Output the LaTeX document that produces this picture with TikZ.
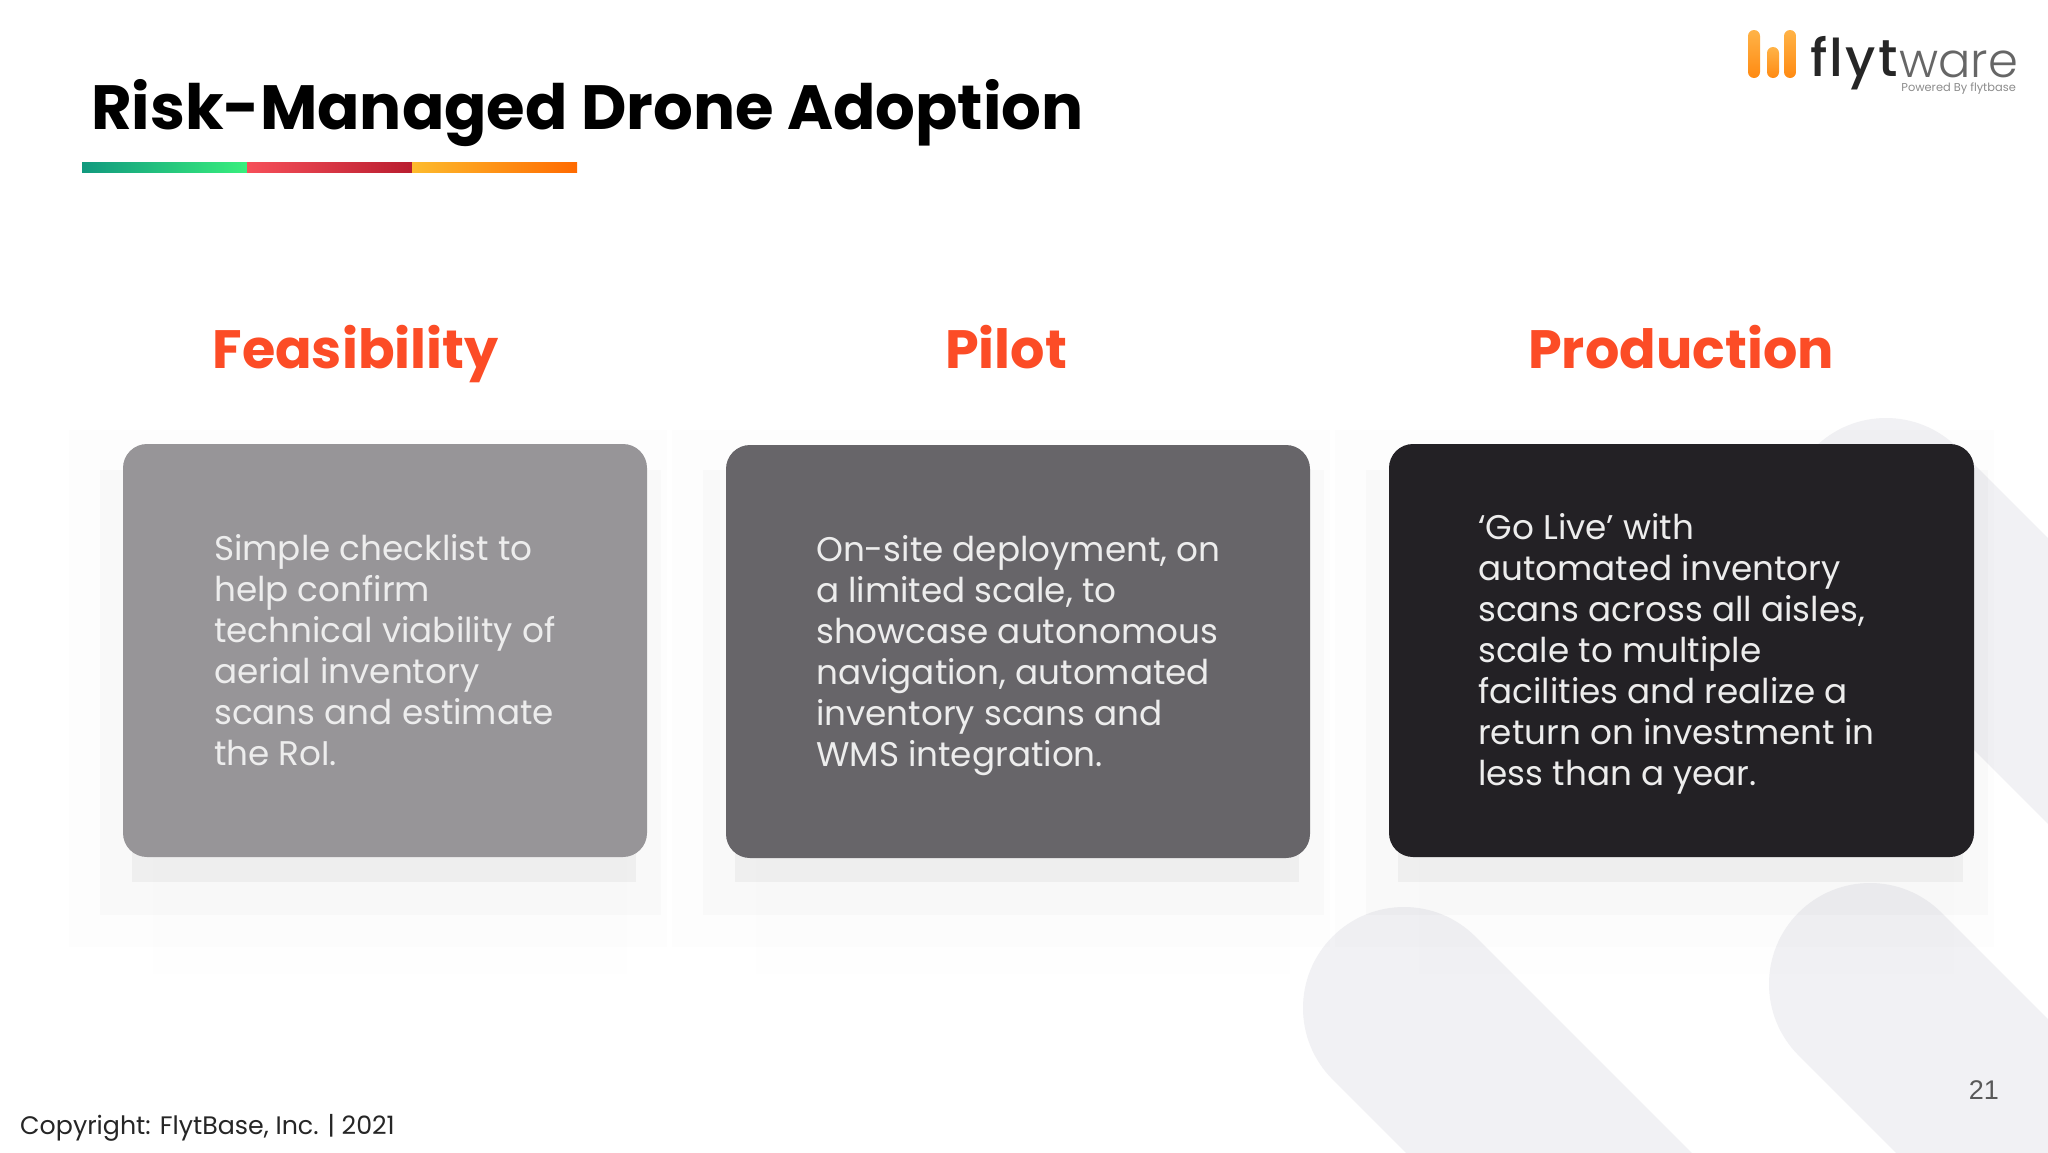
\documentclass[tikz,border=0pt]{standalone}
\usepackage{fontspec}
\setmainfont{Poppins}
\newfontfamily\pagefont{Liberation Sans}
\newfontfamily\logolight{Poppins Light}
\newfontfamily\logomedium{Poppins Medium}
\usetikzlibrary{positioning}
\definecolor{cardlight}{HTML}{979598}
\definecolor{cardmid}{HTML}{676569}
\definecolor{carddark}{HTML}{232125}
\definecolor{headred}{HTML}{FC4C26}
\definecolor{swoosh}{HTML}{F1F1F4}
\definecolor{barteal}{HTML}{11997E}
\definecolor{bargreen}{HTML}{38EF7D}
\definecolor{barred}{HTML}{F64F59}
\definecolor{barcrimson}{HTML}{B91D2F}
\definecolor{baryellow}{HTML}{FDBB2D}
\definecolor{barorange}{HTML}{FF6A00}
\definecolor{logotop}{HTML}{FFB347}
\definecolor{logobottom}{HTML}{FF8A12}
\begin{document}
\begin{tikzpicture}[x=1pt,y=-1pt]
  \tikzset{card/.style = {rounded corners=24pt, inner sep=0pt},
    cardtext/.style = {anchor=north west, align=left, inner sep=0pt, text=white!93!black,
      font=\fontsize{34.2}{41}\selectfont},
    heading/.style = {anchor=base, text=headred, inner sep=0pt, font=\fontsize{54}{60}\bfseries\selectfont},
    swooshline/.style = {line width=202pt, line cap=round, color=swoosh},
    logobar/.style = {rounded corners=6pt, top color=logotop, bottom color=logobottom}}
  \useasboundingbox (0,0) rectangle (2048,1152);
  \fill[white] (0,0) rectangle (2048,1152);
  \clip (0,0) rectangle (2048,1152);
  % background
  \draw[swooshline] (1404,1008) -- (1704,1308);
  \draw[swooshline] (1870,984) -- (2170,1284);
  \draw[swooshline] (1886,519) -- (2286,919);
  % shadows
  \foreach \xa/\xb in {123/647,726/1310,1389/1974} {
    \fill[black,opacity=0.006] (\xa-54,430) rectangle (\xb+20,947);
    \fill[black,opacity=0.004] (\xa+30,500) rectangle (\xb-20,974);
    \fill[black,opacity=0.014] (\xa-23,470) rectangle (\xb+14,915);
    \fill[black,opacity=0.04] (\xa+9,600) rectangle (\xb-11,882);
  }
  % title
  \node[anchor=west, inner sep=0pt, font=\fontsize{62.5}{70}\bfseries\selectfont] (title) at (91,113) {Risk-Managed Drone Adoption};
  \shade[left color=barteal, right color=bargreen] (82,162) rectangle (247,172);
  \shade[left color=barred, right color=barcrimson] (247,162) rectangle (412,172);
  \shade[left color=baryellow, right color=barorange] (412,162) rectangle (577,172);
  % logo
  \shade[logobar] (1748,30) rectangle (1760,78);
  \shade[logobar] (1767,47) rectangle (1779,78);
  \shade[logobar] (1784,30) rectangle (1796,78);
  \node[anchor=base west, inner sep=0pt, text=black!85, font=\logomedium\fontsize{52}{52}\selectfont] (logoa) at (1810,76) {f\kern2pt l\kern2pt y\kern3pt t};
  \node[anchor=base west, inner sep=0pt, text=black!60, font=\logolight\fontsize{48}{52}\selectfont] (logob) at (1899,77) {ware};
  \node[anchor=base east, inner sep=0pt, text=black!45, font=\fontsize{11.4}{12}\selectfont] (logoc) at (2016,91) {Powered By flytbase};
  % cards
  \node[heading] (feas) at (355.5,368) {Feasibility};
  \node[heading] (pilot) at (1006,368) {Pilot};
  \node[heading] (prod) at (1681,368) {Production};
  \fill[cardlight, card] (123,444) rectangle (647,857);
  \fill[cardmid, card] (726,445) rectangle (1310,858);
  \fill[carddark, card] (1389,444) rectangle (1974,857);
  \node[cardtext] (feastext) at (214,534) {Simple checklist to\\help confirm\\technical viability of\\aerial inventory\\scans and estimate\\the RoI.};
  \node[cardtext] (pilottext) at (816,535) {On-site deployment, on\\a limited scale, to\\showcase autonomous\\navigation, automated\\inventory scans and\\WMS integration.};
  \node[cardtext] (prodtext) at (1478,513.5) {‘Go Live’ with\\automated inventory\\scans across all aisles,\\scale to multiple\\facilities and realize a\\return on investment in\\less than a year.};
  % footer
  \node[anchor=base west, inner sep=0pt, text=black!85, font=\fontsize{25.3}{30}\selectfont] (copy) at (20,1134) {Copyright: FlytBase, Inc. | 2021};
  \node[anchor=base east, inner sep=0pt, text=black!65, font=\pagefont\fontsize{27}{30}\selectfont] (pageno) at (1999,1099) {21};
\end{tikzpicture}
\end{document}
